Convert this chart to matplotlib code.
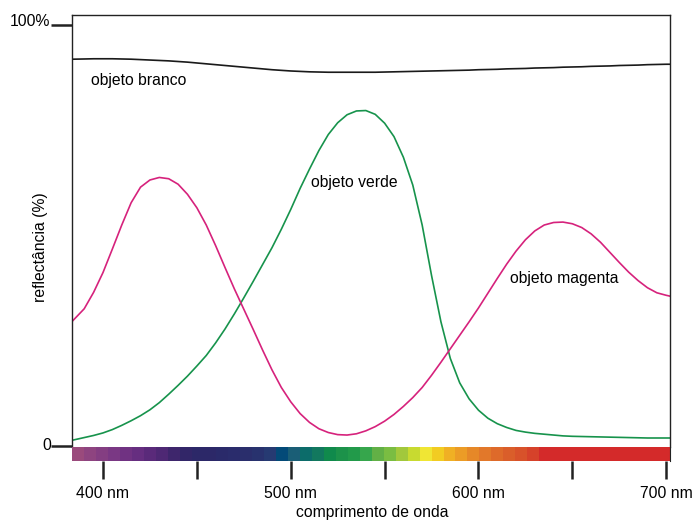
import numpy as np
import matplotlib
matplotlib.use("Agg")
from matplotlib import pyplot as plt

plt.rcParams["font.family"] = ["Liberation Sans", "DejaVu Sans"]
FS = 11.3

# wavelengths (nm) and reflectance (%)
wl = [384] + list(range(390, 701, 5)) + [702]
magenta = [29.8,
           32.6, 36.5, 41.2, 46.8, 52.5, 57.8, 61.5, 63.2, 63.8, 63.5,
           62.2, 59.8, 56.6, 52.5, 47.6, 42.4, 37.3, 32.5, 27.7, 22.8,
           18.1, 13.9, 10.5, 7.7, 5.6, 4.1, 3.2, 2.7, 2.6, 2.9,
           3.6, 4.6, 5.9, 7.5, 9.4, 11.5, 13.9, 16.8, 19.9, 23.1,
           26.3, 29.5, 32.8, 36.3, 39.8, 43.2, 46.3, 49.0, 51.1, 52.5,
           53.1, 53.2, 52.8, 51.9, 50.4, 48.4, 46.0, 43.6, 41.3, 39.3,
           37.6, 36.4, 35.8,
           35.6]
green = [1.4,
         2.0, 2.5, 3.1, 3.9, 4.9, 6.0, 7.2, 8.6, 10.3, 12.3,
         14.4, 16.6, 19.0, 21.5, 24.5, 27.8, 31.4, 35.2, 39.1, 43.1,
         47.1, 51.5, 56.2, 61.2, 65.8, 70.2, 74.0, 76.8, 78.7, 79.6,
         79.7, 78.8, 76.7, 73.5, 68.6, 62.0, 52.5, 40.5, 29.5, 20.8,
         15.0, 11.2, 8.5, 6.6, 5.3, 4.4, 3.7, 3.3, 3.0, 2.8,
         2.6, 2.4, 2.3, 2.25, 2.2, 2.15, 2.1, 2.05, 2.0, 1.95,
         1.9, 1.9, 1.9,
         1.9]
white = [91.9,
         91.95, 92.0, 92.0, 92.0, 91.95, 91.9, 91.8, 91.7, 91.6, 91.5,
         91.35, 91.2, 91.0, 90.8, 90.6, 90.4, 90.2, 90.0, 89.8, 89.6,
         89.4, 89.25, 89.1, 89.0, 88.9, 88.85, 88.8, 88.8, 88.8, 88.8,
         88.8, 88.8, 88.85, 88.9, 88.95, 89.0, 89.05, 89.1, 89.15, 89.2,
         89.25, 89.3, 89.4, 89.45, 89.5, 89.6, 89.65, 89.7, 89.8, 89.85,
         89.9, 90.0, 90.05, 90.1, 90.2, 90.25, 90.3, 90.4, 90.45, 90.5,
         90.6, 90.65, 90.7,
         90.7]
assert len(wl) == len(magenta) == len(green) == len(white)

# spectrum strip colours (left to right), last one runs to the edge
spectrum = ["#9a4a7c", "#8e4480", "#843e82", "#7a3884", "#703282", "#662e80",
            "#5a2a7a", "#4e2874", "#3e266c", "#322668", "#2c2868", "#2c2868",
            "#2a2a6a", "#2a2c6c", "#2a2e6c", "#28326e", "#263a72", "#034a78",
            "#1a5e76", "#0c6c6a", "#12785e", "#108a4c", "#1c924a", "#229a4a",
            "#36a64c", "#62b046", "#7abd42", "#a2c83c", "#c8da30", "#f0e634",
            "#f2cc22", "#f0b024", "#ec9c26", "#e68828", "#e2782a", "#de6a2a",
            "#da5e2a", "#d8522a", "#d6422a", "#d42a2a"]

xmin, xmax = 383.5, 702.0
tick_wl = [400, 450, 500, 550, 600, 650, 700]
label_wl = [400, 500, 600, 700]

fig = plt.figure(figsize=(6.94, 5.2), dpi=100)
ax = fig.add_axes([72 / 694, 1 - 447 / 520, 598 / 694, 432 / 520])
bar = fig.add_axes([72 / 694, 1 - 461 / 520, 598 / 694, 14 / 520])

ax.plot(wl, white, color="#1a1a1a", lw=1.2)
ax.plot(wl, green, color="#17934c", lw=1.2)
ax.plot(wl, magenta, color="#d6227c", lw=1.2)

ax.set_xlim(xmin, xmax)
ax.set_ylim(-0.24, 102.4)
ax.spines["bottom"].set_visible(False)
for s in ["left", "top", "right"]:
    ax.spines[s].set_linewidth(1.0)
    ax.spines[s].set_color("#222222")
ax.set_xticks([])
ax.set_yticks([0, 100])
ax.set_yticklabels([])
ax.tick_params(axis="y", length=15, width=1.8, color="#222222")
fig.text(50 / 694, 1 - 21 / 520, "100%", fontsize=FS, ha="right", va="center")
fig.text(51 / 694, 1 - 445 / 520, "0", fontsize=FS, ha="right", va="center")
fig.text(40 / 694, 1 - 247 / 520, "reflectância (%)", fontsize=FS,
         rotation=90, ha="center", va="center")

ax.text(393.6, 86.9, "objeto branco", fontsize=FS, va="center")
ax.text(510.6, 62.5, "objeto verde", fontsize=FS, va="center")
ax.text(617.0, 39.7, "objeto magenta", fontsize=FS, va="center")

# spectrum strip
step = 12 / 1.88
n = len(spectrum)
lefts = [xmin + i * step for i in range(n)]
widths = [step] * (n - 1) + [xmax - lefts[-1]]
bar.bar(lefts, [1] * n, width=widths, align="edge", color=spectrum,
        edgecolor="none")
bar.set_xlim(xmin, xmax)
bar.set_ylim(0, 1)
bar.set_yticks([])
for s in ["left", "top", "bottom"]:
    bar.spines[s].set_visible(False)
bar.spines["right"].set_color("#222222")
bar.set_xticks(tick_wl)
bar.set_xticklabels([f"{w} nm" if w in label_wl else "" for w in tick_wl],
                    fontsize=FS)
bar.tick_params(axis="x", length=13, width=1.8, pad=5, color="#222222")
fig.text(372 / 694, 1 - 512 / 520, "comprimento de onda", fontsize=FS,
         ha="center", va="center")

fig.savefig("out.png", dpi=100)
